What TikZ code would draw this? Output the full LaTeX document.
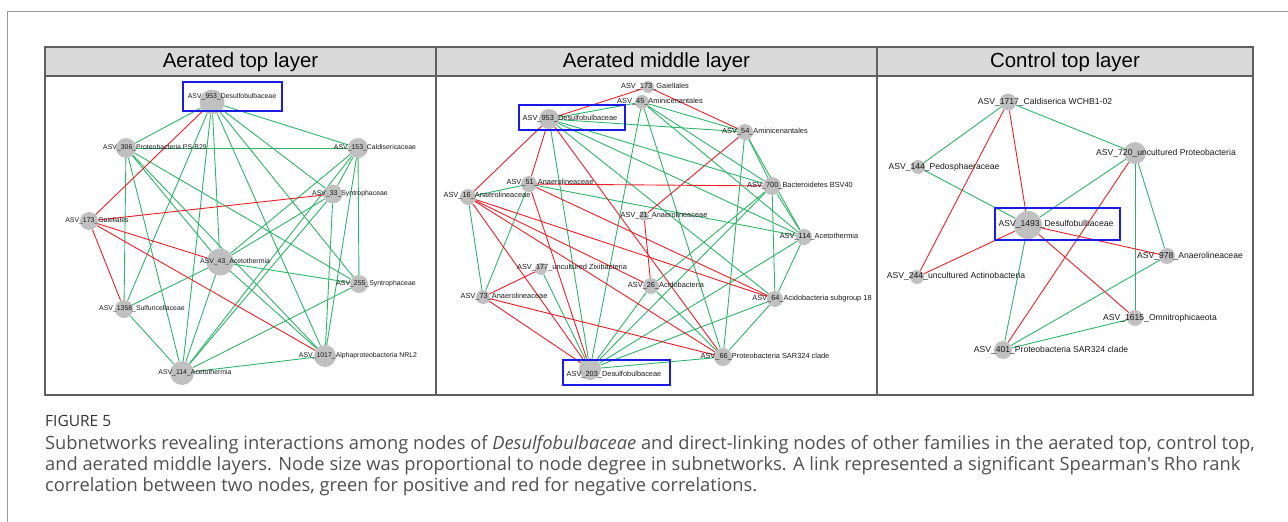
\documentclass[tikz,border=0pt]{standalone}
\usepackage{fontspec}
\setmainfont{Liberation Sans}
\newfontfamily\capfont{Open Sans}
\usetikzlibrary{backgrounds}
\definecolor{posgreen}{RGB}{46,180,104}
\definecolor{negred}{RGB}{236,30,38}
\definecolor{nodegray}{RGB}{192,192,192}
\definecolor{hubblue}{RGB}{26,26,232}
\definecolor{hdrgray}{RGB}{217,217,217}
\definecolor{rulegray}{RGB}{95,95,95}
\definecolor{capgray}{RGB}{80,80,80}

\begin{document}
\begin{tikzpicture}[x=1pt,y=-1pt,
    asv/.style={circle,fill=nodegray,inner sep=0pt,minimum size=#1},
    lbl/.style={inner sep=0pt,text=black!90},
    poslink/.style={posgreen,line width=0.9pt},
    neglink/.style={negred,line width=0.9pt},
    hub/.style={hubblue,line width=1.8pt},
    hdr/.style={inner sep=0pt,font=\fontsize{20.4}{24}\selectfont}]
  \useasboundingbox (0,0) rectangle (1288,522);
  \draw[gray!80,line width=0.8pt] (1288,11) -- (7,11) -- (7,522);
  \draw[rulegray,line width=1.4pt,fill=hdrgray] (45,47) rectangle (1253,76);
  \draw[rulegray,line width=1.4pt] (45,47) rectangle (1253,395);
  \draw[rulegray,line width=1.4pt] (436,47) -- (436,395);
  \draw[rulegray,line width=1.4pt] (877,47) -- (877,395);
  \node[hdr] (h1) at (240.5,62) {Aerated top layer};
  \node[hdr] (h2) at (656.5,62) {Aerated middle layer};
  \node[hdr] (h3) at (1065,62) {Control top layer};

  \begin{scope}[nodes={font=\fontsize{6.9}{8}\selectfont}]
    \node[asv=25] (t953) at (212,102) {};
    \node[asv=20] (t306) at (126,148) {};
    \node[asv=20] (t153) at (358,148) {};
    \node[asv=19] (t33) at (333,194) {};
    \node[asv=18] (t173) at (89,221) {};
    \node[asv=27] (t43) at (220,262) {};
    \node[asv=18] (t255) at (359,284) {};
    \node[asv=18] (t1358) at (124,309) {};
    \node[asv=22] (t1017) at (325,356) {};
    \node[asv=24] (t114) at (182,373) {};
    \node[lbl] (t953l) at (232,97) {ASV\_953\_Desulfobulbaceae};
    \node[lbl] (t306l) at (155,148) {ASV\_306\_Proteobacteria PS-B29};
    \node[lbl] (t153l) at (375,148) {ASV\_153\_Caldisericaceae};
    \node[lbl] (t33l) at (350,194) {ASV\_33\_Syntrophaceae};
    \node[lbl] (t173l) at (97,221) {ASV\_173\_Gaiellales};
    \node[lbl] (t43l) at (235,262) {ASV\_43\_Acetothermia};
    \node[lbl] (t255l) at (376,284) {ASV\_255\_Syntrophaceae};
    \node[lbl] (t1358l) at (142,309) {ASV\_1358\_Sulfuricellaceae};
    \node[lbl] (t1017l) at (358,356) {ASV\_1017\_Alphaproteobacteria NRL2};
    \node[lbl] (t114l) at (195,373) {ASV\_114\_Acetothermia};
    \draw[hub] (183,82) rectangle (282,111);
  \end{scope}

  \begin{scope}[nodes={font=\fontsize{7.4}{9}\selectfont}]
    \node[asv=12] (m173) at (648,87) {};
    \node[asv=14] (m45) at (642,102) {};
    \node[asv=20] (m953) at (549,119) {};
    \node[asv=16] (m54) at (745,132) {};
    \node[asv=16] (m51) at (529,184) {};
    \node[asv=16] (m16) at (468,197) {};
    \node[asv=18] (m700) at (772,186) {};
    \node[asv=10] (m21) at (644,216) {};
    \node[asv=16] (m114) at (804,237) {};
    \node[asv=12] (m177) at (541,269) {};
    \node[asv=16] (m26) at (651,286) {};
    \node[asv=14] (m73) at (483,297) {};
    \node[asv=16] (m64) at (775,299) {};
    \node[asv=18] (m66) at (723,357) {};
    \node[asv=22] (m203) at (590,369) {};
    \node[lbl] (m173l) at (655,87) {ASV\_173\_Gaiellales};
    \node[lbl] (m45l) at (660,102) {ASV\_45\_Aminicenantales};
    \node[lbl] (m953l) at (570,119) {ASV\_953\_Desulfobulbaceae};
    \node[lbl] (m54l) at (765,132) {ASV\_54\_Aminicenantales};
    \node[lbl] (m51l) at (550,183) {ASV\_51\_Anaerolineaceae};
    \node[lbl] (m16l) at (487,196) {ASV\_16\_Anaerolineaceae};
    \node[lbl] (m700l) at (800,186) {ASV\_700\_Bacteroidetes BSV40};
    \node[lbl] (m21l) at (664,216) {ASV\_21\_Anaerolineaceae};
    \node[lbl] (m114l) at (819,237) {ASV\_114\_Acetothermia};
    \node[lbl] (m177l) at (572,268) {ASV\_177\_uncultured Zixibacteria};
    \node[lbl] (m26l) at (666,286) {ASV\_26\_Acidobacteria};
    \node[lbl] (m73l) at (504,297) {ASV\_73\_Anaerolineaceae};
    \node[lbl] (m64l) at (812,299) {ASV\_64\_Acidobacteria subgroup 18};
    \node[lbl] (m66l) at (765,357) {ASV\_66\_Proteobacteria SAR324 clade};
    \node[lbl] (m203l) at (614,375) {ASV\_203\_Desulfobulbaceae};
    \draw[hub] (519,105) rectangle (625,130);
    \draw[hub] (563,360) rectangle (670,385);
  \end{scope}

  \begin{scope}[nodes={font=\fontsize{8.6}{10}\selectfont}]
    \node[asv=17] (c1717) at (1008,102) {};
    \node[asv=22] (c720) at (1135,153) {};
    \node[asv=14] (c144) at (918,167) {};
    \node[asv=28] (c1493) at (1028,225) {};
    \node[asv=16] (c978) at (1167,256) {};
    \node[asv=14] (c244) at (917,277) {};
    \node[asv=16] (c1615) at (1135,318) {};
    \node[asv=18] (c401) at (1003,350) {};
    \node[lbl] (c1717l) at (1045,102) {ASV\_1717\_Caldiserica WCHB1-02};
    \node[lbl] (c720l) at (1166,153) {ASV\_720\_uncultured Proteobacteria};
    \node[lbl] (c144l) at (944,167) {ASV\_144\_Pedosphaeraceae};
    \node[lbl] (c1493l) at (1056,224) {ASV\_1493\_Desulfobulbaceae};
    \node[lbl] (c978l) at (1190,256) {ASV\_978\_Anaerolineaceae};
    \node[lbl] (c244l) at (956,276) {ASV\_244\_uncultured Actinobacteria};
    \node[lbl] (c1615l) at (1160,318) {ASV\_1615\_Omnitrophicaeota};
    \node[lbl] (c401l) at (1051,350) {ASV\_401\_Proteobacteria SAR324 clade};
    \draw[hub] (995,208) rectangle (1120,240);
  \end{scope}

  \begin{scope}[on background layer]
    \foreach \a/\b in {t953/t306,t953/t153,t953/t1358,t953/t114,t953/t43,t953/t1017,t953/t255,t953/t33,
        t306/t153,t306/t1358,t306/t114,t306/t43,t306/t255,t306/t1017,
        t153/t33,t153/t43,t153/t114,t153/t255,t153/t1017,
        t33/t43,t33/t114,t33/t1017,t43/t1358,t43/t114,t43/t255,t43/t1017,
        t255/t114,t1358/t114,t1017/t114}
      \draw[poslink] (\a) -- (\b);
    \foreach \a/\b in {t953/t173,t173/t33,t173/t1358,t173/t43,t173/t1017}
      \draw[neglink] (\a) -- (\b);
    \foreach \a/\b in {m953/m45,m953/m54,m953/m700,m953/m114,m953/m64,m953/m203,
        m45/m54,m45/m700,m45/m114,m45/m203,m45/m66,m54/m700,m54/m114,m54/m66,
        m16/m51,m16/m73,m51/m73,m51/m114,m700/m114,m700/m64,m700/m203,m700/m26,
        m114/m64,m114/m203,m64/m203,m64/m66,m66/m203,m26/m66,m26/m203,m177/m203}
      \draw[poslink] (\a) -- (\b);
    \foreach \a/\b in {m173/m953,m173/m54,m953/m16,m953/m51,m953/m66,m54/m21,
        m51/m700,m51/m203,m51/m64,m16/m203,m16/m26,m16/m66,m16/m64,m21/m26,
        m73/m177,m73/m203,m73/m66}
      \draw[neglink] (\a) -- (\b);
    \foreach \a/\b in {c1717/c144,c1717/c720,c144/c1493,c720/c1493,c720/c1615,
        c720/c978,c1493/c401,c978/c401,c1615/c401}
      \draw[poslink] (\a) -- (\b);
    \foreach \a/\b in {c1717/c244,c1717/c1493,c720/c401,c1493/c244,c1493/c978,c1493/c1615}
      \draw[neglink] (\a) -- (\b);
  \end{scope}

  \node[anchor=west,inner sep=0pt,font=\capfont\fontsize{15.5}{18}\selectfont,text=black!80] (fig) at (45,421) {FIGURE 5};
  \begin{scope}[nodes={anchor=west,inner sep=0pt,text=capgray,font=\capfont\fontsize{18.3}{21}\selectfont}]
    \node (cap1) at (45,445) {Subnetworks revealing interactions among nodes of \textit{Desulfobulbaceae} and direct-linking nodes of other families in the aerated top, control top,};
    \node (cap2) at (45,466) {and aerated middle layers. Node size was proportional to node degree in subnetworks. A link represented a significant Spearman's Rho rank};
    \node (cap3) at (45,487) {correlation between two nodes, green for positive and red for negative correlations.};
  \end{scope}
\end{tikzpicture}
\end{document}
